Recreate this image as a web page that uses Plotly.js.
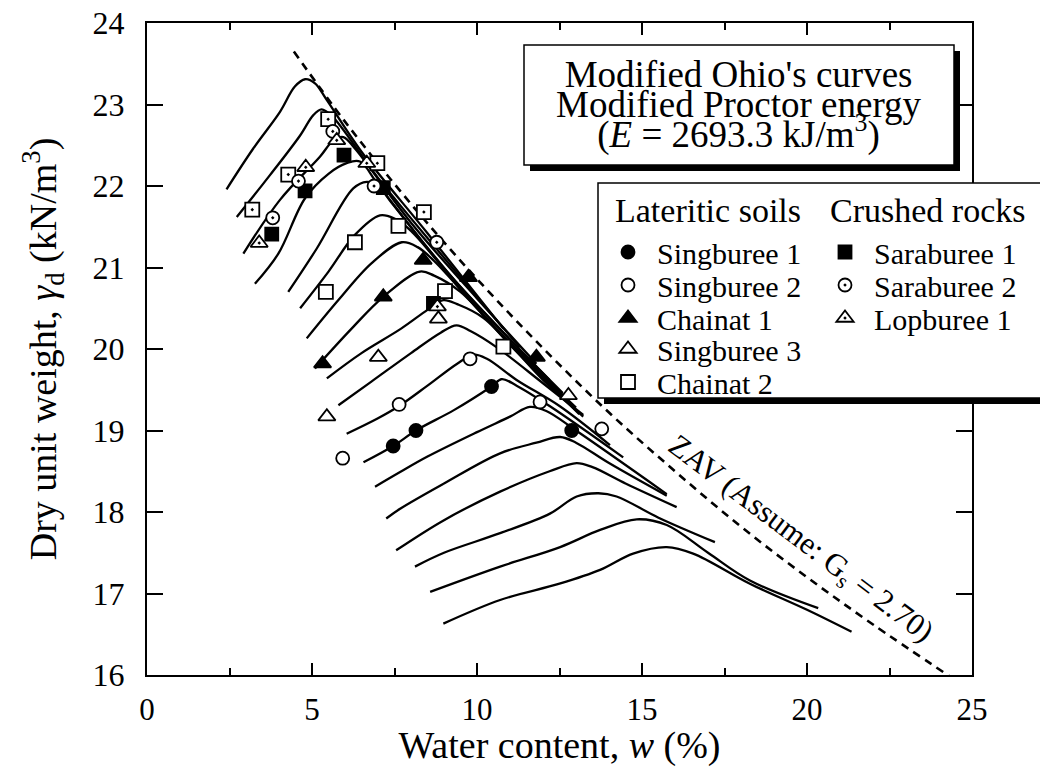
<!DOCTYPE html>
<html>
<head>
<meta charset="utf-8">
<script src="https://cdn.plot.ly/plotly-3.0.1.min.js"></script>
<style>
html,body{margin:0;padding:0;background:#fff;}
#chart{width:1040px;height:767px;}
</style>
</head>
<body>
<div id="chart"></div>
<script>
// ---- Compaction curves (water content %, dry unit weight kN/m3) ----
const curveW01 = [2.41,3.22,4.03,4.48,4.79,5.09,5.44,6.5,8.5,10.8];
const curveG01 = [21.96,22.46,22.91,23.22,23.31,23.26,23.06,22.42,21.42,20.25];
const curveW02 = [2.72,3.72,4.64,5.04,5.29,5.6,7.0,9.0,11.3];
const curveG02 = [21.62,22.13,22.62,22.87,22.94,22.86,22.1,21.12,20.02];
const curveW03 = [2.92,4.03,5.24,5.65,5.95,6.3,8.0,10.0,11.8];
const curveG03 = [21.17,21.83,22.36,22.56,22.6,22.46,21.55,20.62,19.82];
const curveW04 = [3.27,3.98,4.79,5.5,6.05,6.45,7.0,9.0,12.2];
const curveG04 = [20.80,21.17,21.85,22.15,22.28,22.3,22.02,20.99,19.62];
const curveW05 = [4.28,5.14,6.25,6.66,7.0,7.4,9.5,12.6];
const curveG05 = [20.70,21.23,21.97,22.05,22.0,21.8,20.76,19.46];
const curveW06 = [4.64,5.5,6.3,7.06,7.5,8.0,10.0,13.0];
const curveG06 = [20.5,20.95,21.4,21.64,21.6,21.45,20.5,19.28];
const curveW07 = [4.84,5.8,6.8,7.72,8.2,8.7,10.5,12.9];
const curveG07 = [20.13,20.6,21.05,21.31,21.25,21.08,20.28,19.3];
const curveW08 = [5.09,6.2,7.16,8.27,8.7,9.5,11.0,13.1];
const curveG08 = [19.76,20.25,20.64,20.95,20.9,20.7,20.05,19.2];
const curveW09 = [5.45,6.5,7.7,8.5,8.98,9.4,10.2,12.0,13.22];
const curveG09 = [19.64,19.95,20.25,20.48,20.6,20.55,20.38,19.62,19.17];
const curveW10 = [5.8,6.8,8.0,8.9,9.38,9.8,10.6,12.0,13.22];
const curveG10 = [19.31,19.6,19.95,20.2,20.29,20.22,20.02,19.58,19.19];
const curveW11 = [6.05,7.0,7.64,8.5,9.4,9.9,10.3,11.2,12.5,14.03];
const curveG11 = [18.96,19.15,19.3,19.55,19.82,19.93,19.88,19.62,19.3,18.82];
const curveW12 = [6.56,7.46,8.15,9.3,10.44,10.75,11.2,12.2,14.43];
const curveG12 = [18.61,18.81,19.0,19.25,19.54,19.63,19.55,19.3,18.67];
const curveW13 = [6.91,7.67,8.5,10.0,11.0,11.6,12.1,13.0,15.75];
const curveG13 = [18.31,18.49,18.68,18.98,19.17,19.29,19.24,19.0,18.22];
const curveW14 = [7.25,7.67,9.0,10.7,11.8,12.52,13.0,14.0,15.75];
const curveG14 = [17.92,18.04,18.35,18.72,18.85,18.92,18.85,18.6,18.2];
const curveW15 = [7.55,9.0,10.7,12.2,13.02,13.5,14.5,16.05];
const curveG15 = [17.53,17.9,18.25,18.5,18.6,18.55,18.35,18.06];
const curveW16 = [8.12,9.0,10.7,12.21,13.02,13.68,14.23,15.5,17.21];
const curveG16 = [17.33,17.5,17.74,17.98,18.19,18.23,18.19,17.93,17.63];
const curveW17 = [8.58,10.7,12.52,13.73,14.84,15.75,17.0,18.27,20.34];
const curveG17 = [17.02,17.33,17.57,17.78,17.91,17.84,17.5,17.16,16.82];
const curveW18 = [8.98,10.7,12.5,13.73,14.73,15.75,16.55,18.27,20.0,21.35];
const curveG18 = [16.63,16.92,17.12,17.29,17.49,17.57,17.49,17.12,16.8,16.53];

// ---- Zero air voids line (Gs = 2.70) ----
const zavW = [4.45,6,8,10,12,14,16,18,20,22,24.3];
const zavG = [23.65,22.79,21.78,20.86,20.01,19.22,18.50,17.82,17.20,16.62,15.99];

// ---- Measured points ----
const singburee1W = [7.46,8.15,10.44,12.87];
const singburee1G = [18.81,19.0,19.54,19.0];
const singburee2W = [5.93,7.64,9.79,11.91,13.78];
const singburee2G = [18.66,19.32,19.88,19.35,19.02];
const chainat1W = [5.32,7.16,8.37,9.74,11.8];
const chainat1G = [19.82,20.64,21.09,20.88,19.9];
const singburee3W = [5.45,7.01,8.83,12.77];
const singburee3G = [19.17,19.9,20.37,19.43];
const chainat2W = [5.42,6.3,7.62,9.03,10.8];
const chainat2G = [20.70,21.31,21.51,20.71,20.03];
const saraburee1W = [3.78,4.79,5.97,7.16,8.68];
const saraburee1G = [21.41,21.94,22.38,21.98,20.56];
const saraburee2W = [3.81,4.59,5.63,6.88,8.78];
const saraburee2G = [21.61,22.06,22.67,22.0,21.31];
const lopburee1W = [3.4,4.81,5.75,6.66,8.8];
const lopburee1G = [21.3,22.23,22.56,22.28,20.52];
const otherRockW = [3.19,4.28,5.49,6.98,8.39];
const otherRockG = [21.71,22.14,22.82,22.28,21.68];

const seriesNames = ['Singburee 1','Singburee 2','Chainat 1','Singburee 3','Chainat 2','Saraburee 1','Saraburee 2','Lopburee 1'];
const groupTitles = ['Lateritic soils','Crushed rocks'];
const boxLines = ["Modified Ohio's curves","Modified Proctor energy","(<i>E</i> = 2693.3 kJ/m<sup>3</sup>)"];
const zavLabel = 'ZAV (Assume: G<sub>s</sub> = 2.70)';

const FONT = 'Liberation Serif';

const curvesW = [curveW01,curveW02,curveW03,curveW04,curveW05,curveW06,curveW07,curveW08,curveW09,curveW10,curveW11,curveW12,curveW13,curveW14,curveW15,curveW16,curveW17,curveW18];
const curvesG = [curveG01,curveG02,curveG03,curveG04,curveG05,curveG06,curveG07,curveG08,curveG09,curveG10,curveG11,curveG12,curveG13,curveG14,curveG15,curveG16,curveG17,curveG18];

const traces = [];
curvesW.forEach((w,i)=>{
  traces.push({x:w, y:curvesG[i], type:'scatter', mode:'lines',
    line:{color:'black', width:2.3, shape:'spline', smoothing:1}, showlegend:false, hoverinfo:'skip'});
});
traces.push({x:zavW, y:zavG, type:'scatter', mode:'lines',
  line:{color:'black', width:2.6, dash:'8px,6px', shape:'spline'}, showlegend:false, hoverinfo:'skip'});

function pts(w,g,name,symbol,size,fill,legendId){
  return {x:w, y:g, type:'scatter', mode:'markers', name:name,
    marker:{symbol:symbol, size:size, color:fill, line:{color:'black', width:1.8}},
    showlegend: !!legendId, legend: legendId || 'legend', cliponaxis:false};
}
traces.push(pts(otherRockW, otherRockG, 'rock', 'square-dot', 14, 'white', null));
traces.push(pts(singburee1W, singburee1G, seriesNames[0], 'circle', 13, 'black', 'legend'));
traces.push(pts(singburee2W, singburee2G, seriesNames[1], 'circle', 13, 'white', 'legend2'));
traces.push(pts(chainat1W, chainat1G, seriesNames[2], 'triangle-up', 15, 'black', 'legend3'));
traces.push(pts(singburee3W, singburee3G, seriesNames[3], 'triangle-up', 15, 'white', 'legend4'));
traces.push(pts(chainat2W, chainat2G, seriesNames[4], 'square', 14, 'white', 'legend5'));
traces.push(pts(saraburee1W, saraburee1G, seriesNames[5], 'square', 13, 'black', 'legend6'));
traces.push(pts(saraburee2W, saraburee2G, seriesNames[6], 'circle-dot', 13, 'white', 'legend7'));
traces.push(pts(lopburee1W, lopburee1G, seriesNames[7], 'triangle-up-dot', 15, 'white', 'legend8'));

// plot area in pixels: x 147..972, y 23..675
const PX0=147, PX1=972, PY0=23, PY1=675;
const px = v => (v-PX0)/(PX1-PX0);
const py = v => (PY1-v)/(PY1-PY0);

function legendAt(xpx, ypx){
  return {x:px(xpx), y:py(ypx), xanchor:'left', yanchor:'middle', bgcolor:'rgba(0,0,0,0)',
    borderwidth:0, itemwidth:48, font:{family:FONT, size:30, color:'black'}};
}
const rowsY = [252,285,318,349,382];

// three lines of the energy box: small base size keeps the line pitch tight, spans set glyph size
const boxText = boxLines.map(t => '<span style="font-size:37px">' + t + '</span>').join('<br>');

const layout = {
  width:1040, height:767,
  margin:{l:PX0, r:1040-PX1, t:PY0, b:767-PY1, pad:0},
  paper_bgcolor:'white', plot_bgcolor:'white',
  font:{family:FONT, color:'black'},
  showlegend:true,
  xaxis:{range:[0,25], tick0:0, dtick:5, ticks:'inside', ticklen:12, tickwidth:2, tickcolor:'black',
    showline:true, linewidth:2, linecolor:'black', mirror:'ticks', showgrid:false, zeroline:false,
    minor:{dtick:2.5, ticks:'inside', ticklen:7, tickwidth:2, tickcolor:'black', showgrid:false},
    tickfont:{family:FONT, size:31, color:'black'}, ticklabelstandoff:6,
    title:{text:'Water content, <i>w</i> (%)', font:{family:FONT, size:38, color:'black'}, standoff:14},
    automargin:false},
  yaxis:{range:[16,24], tick0:16, dtick:1, ticks:'inside', ticklen:16, tickwidth:2, tickcolor:'black',
    showline:true, linewidth:2, linecolor:'black', mirror:'ticks', showgrid:false, zeroline:false,
    tickfont:{family:FONT, size:32, color:'black'}, ticklabelstandoff:14,
    title:{text:'Dry unit weight, <i>γ</i><sub>d</sub> (kN/m<sup>3</sup>)', font:{family:FONT, size:38, color:'black'}, standoff:24},
    automargin:false},
  legend: legendAt(599, rowsY[0]),
  legend2: legendAt(599, rowsY[1]),
  legend3: legendAt(599, rowsY[2]),
  legend4: legendAt(599, rowsY[3]),
  legend5: legendAt(599, rowsY[4]),
  legend6: legendAt(816, rowsY[0]),
  legend7: legendAt(816, rowsY[1]),
  legend8: legendAt(816, rowsY[2]),
  shapes:[
    {type:'rect', xref:'paper', yref:'paper', x0:px(530), x1:px(960), y0:py(171), y1:py(51), fillcolor:'black', line:{width:0}, layer:'above'},
    {type:'rect', xref:'paper', yref:'paper', x0:px(524), x1:px(954), y0:py(165), y1:py(45), fillcolor:'white', line:{color:'black', width:1.5}, layer:'above'},
    {type:'rect', xref:'paper', yref:'paper', x0:px(604), x1:px(1051), y0:py(404), y1:py(189), fillcolor:'black', line:{width:0}, layer:'above'},
    {type:'rect', xref:'paper', yref:'paper', x0:px(598), x1:px(1045), y0:py(398), y1:py(183), fillcolor:'white', line:{color:'black', width:1.5}, layer:'above'}
  ],
  annotations:[
    {xref:'paper', yref:'paper', x:px(739), y:py(105), text:boxText, showarrow:false, xanchor:'center', yanchor:'middle', align:'center', font:{family:FONT, size:23, color:'black'}},
    {xref:'paper', yref:'paper', x:px(613), y:py(210), text:groupTitles[0], showarrow:false, xanchor:'left', yanchor:'middle', font:{family:FONT, size:34, color:'black'}},
    {xref:'paper', yref:'paper', x:px(828), y:py(210), text:groupTitles[1], showarrow:false, xanchor:'left', yanchor:'middle', font:{family:FONT, size:34, color:'black'}},
    {xref:'paper', yref:'paper', x:px(800), y:py(540), text:zavLabel, showarrow:false, textangle:37, xanchor:'center', yanchor:'middle', font:{family:FONT, size:31, color:'black'}}
  ]
};

Plotly.newPlot('chart', traces, layout, {staticPlot:true, displayModeBar:false});
</script>
</body>
</html>
